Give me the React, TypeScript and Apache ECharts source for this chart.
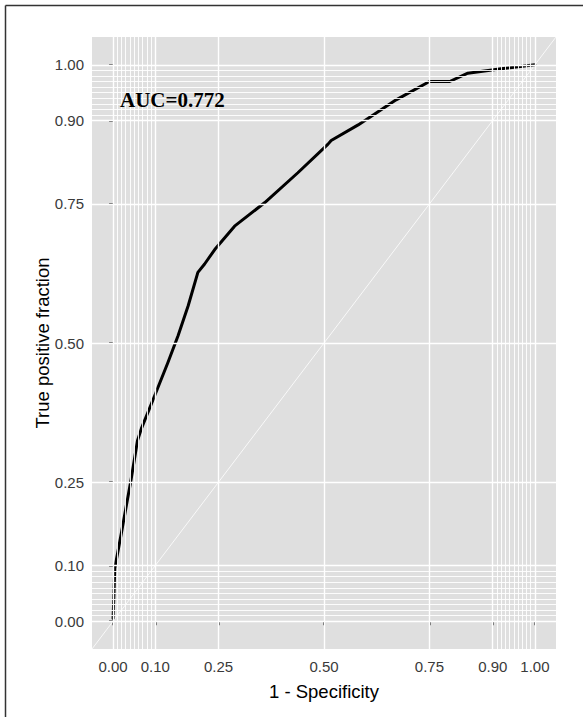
import React, { useEffect, useRef } from "react";
import * as echarts from "echarts";

// ROC curve points (1 - specificity, true positive fraction)
const fpr = [0, 0.004, 0.02, 0.043, 0.058, 0.067, 0.099, 0.13, 0.154, 0.178, 0.201, 0.217, 0.241, 0.288, 0.359, 0.438, 0.509, 0.517, 0.581, 0.671, 0.75, 0.798, 0.841, 0.92, 1.0];
const tpr = [0.005, 0.095, 0.16, 0.256, 0.325, 0.346, 0.406, 0.465, 0.513, 0.567, 0.627, 0.642, 0.668, 0.71, 0.752, 0.806, 0.857, 0.864, 0.892, 0.937, 0.97, 0.97, 0.985, 0.993, 1.0];

const majorBreaks = [0, 0.1, 0.25, 0.5, 0.75, 0.9, 1];
const minorBreaks = [
  0, 0.01, 0.02, 0.03, 0.04, 0.05, 0.06, 0.07, 0.08, 0.09, 0.1,
  0.9, 0.91, 0.92, 0.93, 0.94, 0.95, 0.96, 0.97, 0.98, 0.99, 1,
];
const axisRange = [-0.05, 1.05];
const aucLabel = "AUC=0.772";
const xTitle = "1 - Specificity";
const yTitle = "True positive fraction";

export default function App() {
  const ref = useRef<HTMLDivElement>(null);
  useEffect(() => {
    if (!ref.current) return;
    const chart = echarts.init(ref.current, undefined, { renderer: "svg" });
    const curve = fpr.map((x, i) => [x, tpr[i]]);
    const gridMark = (vals: number[], w: number) => [
      ...vals.map((v) => ({ xAxis: v, lineStyle: { width: w } })),
      ...vals.map((v) => ({ yAxis: v, lineStyle: { width: w } })),
    ];
    const tickLabel = {
      customValues: majorBreaks,
      formatter: (v: number) => v.toFixed(2),
      color: "#3A3A3A",
      fontSize: 15,
      fontFamily: "Liberation Sans, Arial, sans-serif",
    };
    const tick = {
      show: true,
      customValues: majorBreaks,
      length: 4,
      lineStyle: { color: "#333333", width: 1.5 },
    };
    chart.setOption({
      animation: false,
      backgroundColor: "#ffffff",
      grid: {
        left: 92,
        top: 37,
        right: 27,
        bottom: 68,
        show: true,
        backgroundColor: "#DFDFDF",
        borderWidth: 0,
      },
      xAxis: {
        type: "value",
        min: axisRange[0],
        max: axisRange[1],
        axisLine: { show: false },
        axisTick: tick,
        axisLabel: { ...tickLabel, margin: 10 },
        splitLine: { show: false },
      },
      yAxis: {
        type: "value",
        min: axisRange[0],
        max: axisRange[1],
        axisLine: { show: false },
        axisTick: tick,
        axisLabel: { ...tickLabel, margin: 8 },
        splitLine: { show: false },
      },
      graphic: [
        {
          type: "line",
          shape: { x1: 5.5, y1: 5.5, x2: 583, y2: 5.5 },
          style: { stroke: "#333333", lineWidth: 1.5 },
        },
        {
          type: "line",
          shape: { x1: 5.5, y1: 5.5, x2: 5.5, y2: 717 },
          style: { stroke: "#333333", lineWidth: 1.5 },
        },
        {
          type: "text",
          x: 120,
          y: 100,
          z: 10,
          style: {
            text: aucLabel,
            fontFamily: "Liberation Serif, Times New Roman, serif",
            fontSize: 21,
            fontWeight: "bold",
            fill: "#000000",
            textAlign: "left",
            textVerticalAlign: "middle",
          },
        },
        {
          type: "text",
          x: 324,
          y: 691,
          style: {
            text: xTitle,
            fontFamily: "Liberation Sans, Arial, sans-serif",
            fontSize: 18.5,
            fill: "#000000",
            textAlign: "center",
            textVerticalAlign: "middle",
          },
        },
        {
          type: "text",
          x: 42,
          y: 343,
          rotation: Math.PI / 2,
          style: {
            text: yTitle,
            fontFamily: "Liberation Sans, Arial, sans-serif",
            fontSize: 18.5,
            fill: "#000000",
            textAlign: "center",
            textVerticalAlign: "middle",
          },
        },
      ],
      series: [
        {
          type: "line",
          data: [],
          z: 1,
          silent: true,
          markLine: {
            silent: true,
            symbol: ["none", "none"],
            label: { show: false },
            lineStyle: { color: "#FFFFFF", type: "solid", width: 0.8 },
            emphasis: { disabled: true },
            data: [...gridMark(minorBreaks, 0.9), ...gridMark(majorBreaks, 1.4)],
          },
        },
        {
          type: "line",
          z: 2,
          silent: true,
          symbol: "none",
          data: [
            [axisRange[0], axisRange[0]],
            [axisRange[1], axisRange[1]],
          ],
          lineStyle: { color: "#FFFFFF", width: 0.8 },
        },
        {
          type: "line",
          z: 3,
          symbol: "none",
          data: curve,
          lineStyle: { color: "#000000", width: 3, join: "round", cap: "round" },
        },
      ],
    });
    return () => chart.dispose();
  }, []);
  return (
    <div
      ref={ref}
      style={{ position: "absolute", left: 0, top: 0, width: 583, height: 717 }}
    />
  );
}
